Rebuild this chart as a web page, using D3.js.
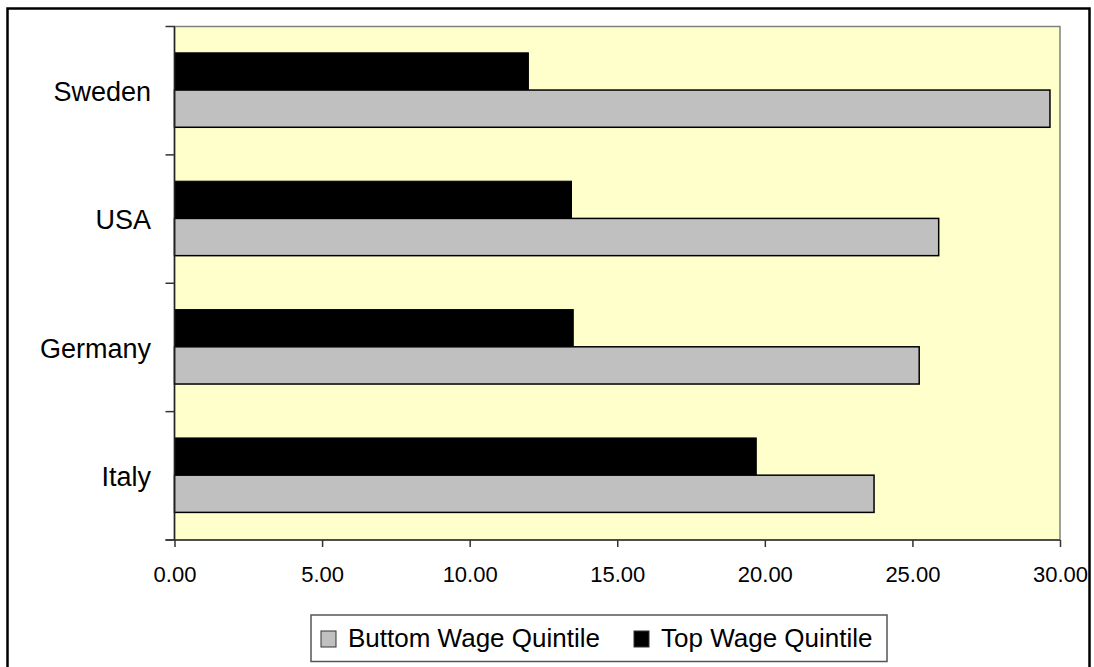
<!DOCTYPE html>
<html>
<head>
<meta charset="utf-8">
<script src="https://cdn.jsdelivr.net/npm/d3@7"></script>
<style>
    body { margin: 0; background: #fff; }
    text { font-family: "Liberation Sans", Arial, sans-serif; fill: #000; }
</style>
</head>
<body>
<script>
// values
const categories = ["Sweden", "USA", "Germany", "Italy"];
const bottomWage = [29.66, 25.89, 25.23, 23.70];
const topWage = [11.99, 13.45, 13.51, 19.71];
const seriesNames = ["Buttom Wage Quintile", "Top Wage Quintile"];
const xTicks = [0, 5, 10, 15, 20, 25, 30];

const width = 1094, height = 667;
const plot = {left: 174.5, right: 1060, top: 26.5, bottom: 540};

let svg = d3.select("body").append("svg")
    .attr("width", width)
    .attr("height", height);

// outer frame (bottom edge runs off the picture)
svg.append("rect")
    .attr("x", 7.5).attr("y", 8.5)
    .attr("width", 1082).attr("height", 670)
    .attr("fill", "none")
    .attr("stroke", "#000")
    .attr("stroke-width", 2.5);

let x = d3.scaleLinear().domain([0, 30]).range([plot.left, plot.right]);
let y = d3.scaleBand().domain(categories).range([plot.top, plot.bottom]).padding(0);
let inner = d3.scaleBand().domain(["top", "bottom"])
    .range([y.bandwidth() * 0.205, y.bandwidth() * 0.785]);

// plot background
svg.append("rect")
    .attr("x", plot.left).attr("y", plot.top)
    .attr("width", plot.right - plot.left)
    .attr("height", plot.bottom - plot.top)
    .attr("fill", "#ffffcc")
    .attr("stroke", "#808080")
    .attr("stroke-width", 1.5);

let rows = categories.map((c, i) => ({cat: c, top: topWage[i], bottom: bottomWage[i]}));

let g = svg.append("g");
g.selectAll("rect.top")
    .data(rows)
    .join("rect")
    .attr("class", "top")
    .attr("x", x(0))
    .attr("y", d => y(d.cat) + inner("top"))
    .attr("width", d => x(d.top) - x(0))
    .attr("height", inner.bandwidth())
    .attr("fill", "#000")
    .attr("stroke", "#000")
    .attr("stroke-width", 1);

g.selectAll("rect.bottom")
    .data(rows)
    .join("rect")
    .attr("class", "bottom")
    .attr("x", x(0))
    .attr("y", d => y(d.cat) + inner("bottom"))
    .attr("width", d => x(d.bottom) - x(0))
    .attr("height", inner.bandwidth())
    .attr("fill", "#c0c0c0")
    .attr("stroke", "#000")
    .attr("stroke-width", 1.5);

// x axis
let xAxis = svg.append("g")
    .attr("transform", `translate(0,${plot.bottom})`)
    .call(d3.axisBottom(x).tickValues(xTicks).tickFormat(d3.format(".2f")).tickSizeOuter(0).tickSize(7));
xAxis.select(".domain").attr("stroke", "#333").attr("stroke-width", 1.5)
    .attr("d", `M${plot.left - 9},0H${plot.right}`);
xAxis.selectAll(".tick line").attr("stroke", "#333").attr("stroke-width", 1.5);
xAxis.selectAll(".tick text")
    .attr("y", 42).attr("dy", 0)
    .style("font-size", "22px")
    .style("font-family", "'Liberation Sans', Arial, sans-serif");

// y axis: ticks on the category boundaries
let yAxis = svg.append("g");
yAxis.append("line")
    .attr("x1", plot.left).attr("x2", plot.left)
    .attr("y1", plot.top).attr("y2", plot.bottom)
    .attr("stroke", "#222").attr("stroke-width", 1.5);
let bounds = categories.map(c => y(c)).concat([plot.bottom]);
yAxis.selectAll("line.tick")
    .data(bounds)
    .join("line")
    .attr("class", "tick")
    .attr("x1", plot.left - 9).attr("x2", plot.left)
    .attr("y1", d => d).attr("y2", d => d)
    .attr("stroke", "#333").attr("stroke-width", 1.5);
yAxis.selectAll("text")
    .data(categories)
    .join("text")
    .attr("x", 151)
    .attr("y", d => y(d) + y.bandwidth() / 2)
    .attr("dy", "0.38em")
    .attr("text-anchor", "end")
    .style("font-size", "27px")
    .text(d => d);

// legend
let legend = svg.append("g");
legend.append("rect")
    .attr("x", 311).attr("y", 615)
    .attr("width", 576).attr("height", 46.5)
    .attr("fill", "#fff")
    .attr("stroke", "#555").attr("stroke-width", 1.5);
let items = [
    {name: seriesNames[0], fill: "#c0c0c0", sx: 321, tx: 348},
    {name: seriesNames[1], fill: "#000", sx: 634, tx: 661}
];
legend.selectAll("rect.swatch")
    .data(items)
    .join("rect")
    .attr("class", "swatch")
    .attr("x", d => d.sx).attr("y", 631)
    .attr("width", 15).attr("height", 16)
    .attr("fill", d => d.fill)
    .attr("stroke", "#333").attr("stroke-width", 1);
legend.selectAll("text")
    .data(items)
    .join("text")
    .attr("x", d => d.tx).attr("y", 647)
    .style("font-size", "26px")
    .text(d => d.name);
</script>
</body>
</html>
